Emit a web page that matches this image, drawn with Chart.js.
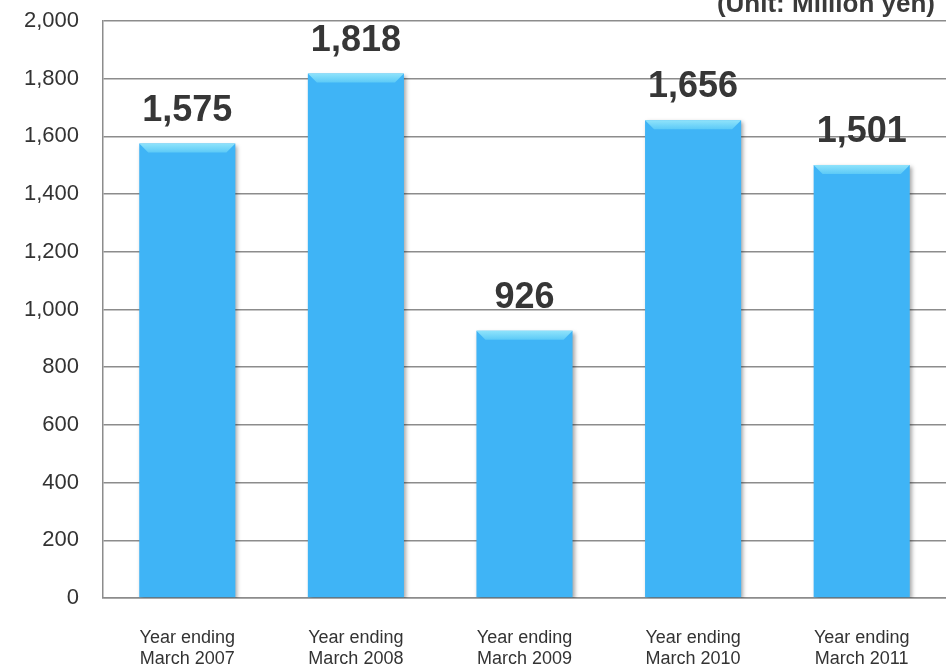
<!DOCTYPE html>
<html lang="en">
<head>
    <meta charset="UTF-8">
    <title>Net Income</title>
    <script src="https://cdn.jsdelivr.net/npm/chart.js"></script>
    <style>
        html, body { margin: 0; padding: 0; background: #fff; }
        #wrap { width: 946px; height: 667px; position: relative; }
    </style>
</head>
<body>
    <div id="wrap"><canvas id="chart"></canvas></div>

    <script>
        const categories = [
            ['Year ending', 'March 2007'],
            ['Year ending', 'March 2008'],
            ['Year ending', 'March 2009'],
            ['Year ending', 'March 2010'],
            ['Year ending', 'March 2011']
        ];
        const values = [1575, 1818, 926, 1656, 1501];
        const unitLabel = '(Unit: Million yen)';

        const gridColor = '#8c8c8c';
        const textColor = '#333333';

        function barFill(ctx) {
            const el = ctx.element;
            const chart = ctx.chart;
            if (!el || !chart.chartArea) return '#3fb4f6';
            const props = el.getProps(['x', 'width'], true);
            const x0 = props.x - props.width / 2;
            const x1 = props.x + props.width / 2;
            if (!isFinite(x0) || !isFinite(x1)) return '#3fb4f6';
            const g = chart.ctx.createLinearGradient(x0, 0, x1, 0);
            g.addColorStop(0, '#2b9ddc');
            g.addColorStop(0.06, '#3cb2f4');
            g.addColorStop(0.5, '#42b8fa');
            g.addColorStop(0.94, '#3aaef0');
            g.addColorStop(1, '#2380bd');
            return g;
        }

        // soft shadow under the bars
        const shadowPlugin = {
            id: 'barShadow',
            beforeDatasetsDraw(chart) {
                const c = chart.ctx;
                c.save();
                c.shadowColor = 'rgba(0,0,0,0.35)';
                c.shadowBlur = 4;
                c.shadowOffsetX = 2;
                c.shadowOffsetY = 2;
            },
            afterDatasetsDraw(chart) {
                chart.ctx.restore();
            }
        };

        // bevelled top + value labels
        const topPlugin = {
            id: 'barTop',
            afterDatasetsDraw(chart) {
                const c = chart.ctx;
                const meta = chart.getDatasetMeta(0);
                meta.data.forEach((bar, i) => {
                    const left = bar.x - bar.width / 2;
                    const right = bar.x + bar.width / 2;
                    const top = bar.y;
                    const h = 9;
                    c.save();
                    const g = c.createLinearGradient(0, top, 0, top + h);
                    g.addColorStop(0, '#8fe3fb');
                    g.addColorStop(1, '#5ccaf7');
                    c.fillStyle = g;
                    c.beginPath();
                    c.moveTo(left, top);
                    c.lineTo(right, top);
                    c.lineTo(right - h, top + h);
                    c.lineTo(left + h, top + h);
                    c.closePath();
                    c.fill();

                    c.font = 'bold 36px "Liberation Sans", Arial, sans-serif';
                    c.fillStyle = '#363636';
                    c.textAlign = 'center';
                    c.textBaseline = 'alphabetic';
                    c.fillText(values[i].toLocaleString('en-US'), bar.x, top - 23);
                    c.restore();
                });

                c.save();
                c.font = 'bold 26px "Liberation Sans", Arial, sans-serif';
                c.fillStyle = '#3a3a3a';
                c.textAlign = 'right';
                c.textBaseline = 'alphabetic';
                c.fillText(unitLabel, 935, 12);
                c.restore();
            }
        };

        new Chart(document.getElementById('chart'), {
            type: 'bar',
            data: {
                labels: categories,
                datasets: [{
                    data: values,
                    backgroundColor: barFill,
                    borderWidth: 0,
                    barPercentage: 0.57,
                    categoryPercentage: 1.0
                }]
            },
            options: {
                responsive: true,
                maintainAspectRatio: false,
                animation: false,
                layout: { padding: { top: 21, right: 0, bottom: 0, left: 0 } },
                plugins: {
                    legend: { display: false },
                    tooltip: { enabled: false }
                },
                scales: {
                    x: {
                        grid: { display: false },
                        border: { display: true, color: gridColor, width: 1.5 },
                        ticks: {
                            color: textColor,
                            font: { family: '"Liberation Sans", Arial, sans-serif', size: 18, lineHeight: 1.15 },
                            padding: 22,
                            maxRotation: 0
                        },
                        afterFit(scale) {
                            scale.height = 69;
                            scale.paddingTop = 0;
                            scale.paddingBottom = 0;
                        }
                    },
                    y: {
                        min: 0,
                        max: 2000,
                        grid: { color: gridColor, lineWidth: 1.5, drawTicks: false },
                        border: { display: true, color: gridColor, width: 1.5 },
                        ticks: {
                            stepSize: 200,
                            color: textColor,
                            padding: 24,
                            font: { family: '"Liberation Sans", Arial, sans-serif', size: 22 },
                            callback: v => v.toLocaleString('en-US')
                        },
                        afterFit(scale) {
                            scale.width = 103;
                            scale.paddingTop = 0;
                            scale.paddingBottom = 0;
                        }
                    }
                }
            },
            plugins: [shadowPlugin, topPlugin]
        });
    </script>
</body>
</html>
